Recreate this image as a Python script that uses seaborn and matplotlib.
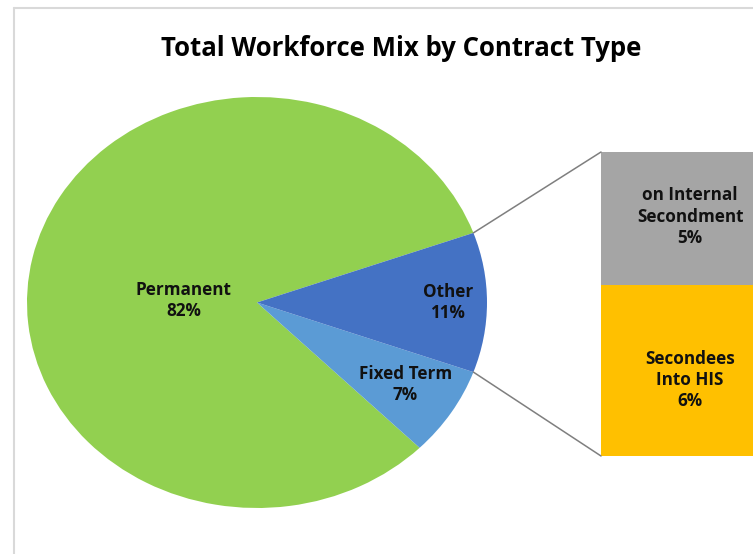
import numpy as np
import matplotlib
matplotlib.use("Agg")
import matplotlib.pyplot as plt
import seaborn as sns
from matplotlib.patches import ConnectionPatch

sns.set_theme(style="white")
plt.rcParams['font.family'] = ['Open Sans', 'DejaVu Sans']

title = "Total Workforce Mix by Contract Type"
pie_labels = ["Permanent", "Fixed Term", "Other"]
pie_values = [82, 7, 11]
pie_colors = ["#92D050", "#5B9BD5", "#4472C4"]

bar_labels = ["Secondees\nInto HIS", "on Internal\nSecondment"]
bar_values = [6.2, 4.8]
bar_colors = ["#FFC000", "#A5A5A5"]

W, H = 753, 554
fig = plt.figure(figsize=(W / 100, H / 100), dpi=100)
fig.patch.set_facecolor("white")

def fax(x0, y0, x1, y1):
    return [x0 / W, 1 - y1 / H, (x1 - x0) / W, (y1 - y0) / H]

# chart frame (cropped screenshot border)
fig.add_artist(plt.Line2D([14 / W, 14 / W], [0, 1 - 8 / H], color="#D9D9D9", lw=1.5))
fig.add_artist(plt.Line2D([14 / W, 1], [1 - 8 / H, 1 - 8 / H], color="#D9D9D9", lw=1.5))

fig.text(401 / W, 1 - 48 / H, title, ha="center", va="center",
         fontsize=18.5, fontweight="bold", color="#000000")

# pie
ax = fig.add_axes(fax(27, 97, 487, 508))
other_share = pie_values[2] / sum(pie_values) * 360
start = other_share / 2
wedges, _ = ax.pie(pie_values, colors=pie_colors, startangle=start,
                   counterclock=True, radius=1, frame=False,
                   wedgeprops=dict(linewidth=0, edgecolor="none"))
ax.set_aspect("auto")
ax.set_xlim(-1, 1)
ax.set_ylim(-1, 1)
ax.axis("off")

label_pos = {"Permanent": (-0.32, 0.01), "Other": (0.83, 0.0), "Fixed Term": (0.645, -0.40)}
for lab, val in zip(pie_labels, pie_values):
    x, y = label_pos[lab]
    ax.text(x, y, f"{lab}\n{val:.0f}%", ha="center", va="center", fontsize=12.3,
            fontweight="bold", color="#111111", linespacing=1.25)

# bar of pie
bx = fig.add_axes(fax(601, 152, 779, 456))
bottom = 0
offsets = [-0.35, 0.05]
for lab, val, col, off in zip(bar_labels, bar_values, bar_colors, offsets):
    bx.bar([0], [val], bottom=bottom, width=1.0, color=col, edgecolor="none")
    bx.text(0, bottom + val / 2 + off,
            f"{lab}\n{val:.0f}%", ha="center", va="center", fontsize=12.3,
            fontweight="bold", color="#111111", linespacing=1.25)
    bottom += val
bx.set_xlim(-0.5, 0.5)
bx.set_ylim(0, sum(bar_values))
bx.axis("off")

theta = np.deg2rad(start)
for yy, sgn in [(sum(bar_values), 1), (0, -1)]:
    con = ConnectionPatch(xyA=(np.cos(theta), sgn * np.sin(theta)), coordsA=ax.transData,
                          xyB=(-0.5, yy), coordsB=bx.transData,
                          color="#7F7F7F", lw=1.1)
    fig.add_artist(con)

fig.savefig("out.png", dpi=100, facecolor="white")
